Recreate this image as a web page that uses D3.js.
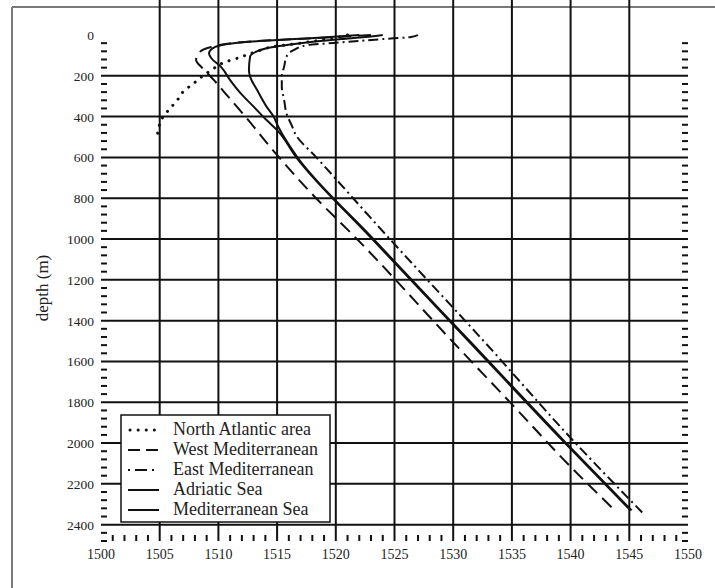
<!DOCTYPE html>
<html>
<head>
<meta charset="utf-8">
<script src="https://cdn.jsdelivr.net/npm/d3@7/dist/d3.min.js"></script>
<style>
  body { margin: 0; background: #fff; }
  svg text { font-family: "Liberation Serif", "DejaVu Serif", serif; fill: #222; }
</style>
</head>
<body>
<script>
// sound speed profiles: depth (m) and speed (m/s)
var northAtlanticDepth = [0, 10, 20, 40, 57, 80, 98, 114, 132, 172, 204, 237, 278, 319, 359, 400, 457, 500];
var northAtlanticSpeed = [1521, 1520.2, 1519.2, 1517, 1514.7, 1513.3, 1512.4, 1511.6, 1510.6, 1509.4, 1508.6, 1507.9, 1507.0, 1506.5, 1505.9, 1505.3, 1504.9, 1504.8];

var westMedDepth = [0, 10, 20, 35, 60, 90, 122, 160, 190, 220, 300, 400, 548, 793, 1000, 1500, 1822, 2116, 2337];
var westMedSpeed = [1523, 1520, 1516.5, 1512, 1509.3, 1508.3, 1508.1, 1508.6, 1509.1, 1509.6, 1510.8, 1512.3, 1514.4, 1518.2, 1521.8, 1529.9, 1535.2, 1540.0, 1543.9];

var eastMedDepth = [0, 10, 20, 39, 49, 74, 106, 155, 204, 253, 319, 384, 450, 490, 597, 1000, 1500, 1993, 2340];
var eastMedSpeed = [1527, 1526.4, 1524, 1519.8, 1517.6, 1516.4, 1515.8, 1515.6, 1515.4, 1515.4, 1515.6, 1515.8, 1516.3, 1516.6, 1518.3, 1524.6, 1532.6, 1540.3, 1546.1];

var adriaticDepth = [0, 10, 20, 40, 65, 106, 172, 204, 270, 351, 400, 450, 597, 1000, 1500, 1993, 2330];
var adriaticSpeed = [1524, 1522.5, 1520.5, 1517, 1514.1, 1512.7, 1512.6, 1512.7, 1513.3, 1514.1, 1514.7, 1515.1, 1516.7, 1523.2, 1531.4, 1539.5, 1545.2];

var mediterraneanDepth = [0, 10, 20, 30, 40, 50, 70, 90, 114, 155, 221, 286, 351, 417, 466, 597, 1000, 1500, 1993, 2330];
var mediterraneanSpeed = [1522, 1519.5, 1516.5, 1513.5, 1511.3, 1510.2, 1509.4, 1509.2, 1509.4, 1510.2, 1511.0, 1511.9, 1513.0, 1514.1, 1515.0, 1516.6, 1523.1, 1531.3, 1539.4, 1545.1];

var seriesNames = ["North Atlantic area", "West Mediterranean", "East Mediterranean", "Adriatic Sea", "Mediterranean Sea"];
var seriesDash = ["0.1 8", "13 7", "10 4 2 4", null, null];

var xTicks = [1500, 1505, 1510, 1515, 1520, 1525, 1530, 1535, 1540, 1545, 1550];
var yTicks = [0, 200, 400, 600, 800, 1000, 1200, 1400, 1600, 1800, 2000, 2200, 2400];

var svg = d3.select("body").append("svg")
    .attr("width", 715)
    .attr("height", 588);

// frame of the original figure (top and left edges only are in view)
svg.append("line").attr("x1", 12).attr("y1", 7).attr("x2", 715).attr("y2", 7)
    .attr("stroke", "#7a7a7a").attr("stroke-width", 2);
svg.append("line").attr("x1", 12).attr("y1", 7).attr("x2", 12).attr("y2", 588)
    .attr("stroke", "#7a7a7a").attr("stroke-width", 2);

var x = d3.scaleLinear().domain([1500, 1550]).range([101, 688]);
var y = d3.scaleLinear().domain([0, 2480]).range([35, 541]);

var left = x.range()[0], right = x.range()[1], top = y.range()[0], bottom = y.range()[1];

// grid
var grid = svg.append("g").attr("stroke", "#111").attr("stroke-width", 2);
xTicks.slice(1, -1).forEach(function (t) {
    grid.append("line").attr("x1", x(t)).attr("x2", x(t)).attr("y1", top).attr("y2", bottom);
});
yTicks.slice(1).forEach(function (t) {
    grid.append("line").attr("x1", left).attr("x2", right).attr("y1", y(t)).attr("y2", y(t));
});

// minor ticks on all four sides, pointing inwards
var tickLen = 6;
var minorX = d3.range(1500, 1551, 1).filter(function (v) { return v % 5 != 0; });
var minorY = d3.range(0, 2481, 40).filter(function (v) { return v % 200 != 0; });
var ticks = svg.append("g").attr("stroke", "#111").attr("stroke-width", 2);
minorX.forEach(function (v) {
    ticks.append("line").attr("x1", x(v)).attr("x2", x(v)).attr("y1", top).attr("y2", top + tickLen);
    ticks.append("line").attr("x1", x(v)).attr("x2", x(v)).attr("y1", bottom).attr("y2", bottom - tickLen);
});
minorY.forEach(function (v) {
    ticks.append("line").attr("x1", left).attr("x2", left + tickLen).attr("y1", y(v)).attr("y2", y(v));
    ticks.append("line").attr("x1", right).attr("x2", right - tickLen).attr("y1", y(v)).attr("y2", y(v));
});

// curves
var profiles = [
    [northAtlanticDepth, northAtlanticSpeed],
    [westMedDepth, westMedSpeed],
    [eastMedDepth, eastMedSpeed],
    [adriaticDepth, adriaticSpeed],
    [mediterraneanDepth, mediterraneanSpeed]
];
var line = d3.line()
    .x(function (d) { return x(d.speed); })
    .y(function (d) { return y(d.depth); })
    .curve(d3.curveMonotoneY);

for (var i = 0; i < profiles.length; i++) {
    var pts = profiles[i][0].map(function (d, j) { return { depth: d, speed: profiles[i][1][j] }; });
    var path = svg.append("path")
        .attr("d", line(pts))
        .attr("fill", "none")
        .attr("stroke", "#111")
        .attr("stroke-width", i == 0 ? 3 : 2);
    if (seriesDash[i]) path.attr("stroke-dasharray", seriesDash[i]);
    if (i == 0) path.attr("stroke-linecap", "round");
}

// plot frame
svg.append("rect")
    .attr("x", left).attr("y", top)
    .attr("width", right - left).attr("height", bottom - top)
    .attr("fill", "none").attr("stroke", "#111").attr("stroke-width", 2.5);

// tick labels
svg.append("g").selectAll("text").data(xTicks).join("text")
    .attr("x", function (d) { return x(d); })
    .attr("y", bottom + 18)
    .attr("text-anchor", "middle")
    .style("font-size", "14px")
    .text(function (d) { return d; });

svg.append("g").selectAll("text").data(yTicks).join("text")
    .attr("x", left - 7)
    .attr("y", function (d) { return y(d) + 5; })
    .attr("text-anchor", "end")
    .style("font-size", "13.5px")
    .text(function (d) { return d; });

svg.append("text")
    .attr("transform", "translate(48," + 288 + ") rotate(-90)")
    .attr("text-anchor", "middle")
    .style("font-size", "17px")
    .text("depth (m)");

// legend
var legend = svg.append("g").attr("transform", "translate(121,415)");
legend.append("rect")
    .attr("width", 209).attr("height", 107)
    .attr("fill", "#fff").attr("stroke", "#111").attr("stroke-width", 1.5);
for (var k = 0; k < seriesNames.length; k++) {
    var ly = 15 + k * 20;
    var sample = legend.append("line")
        .attr("x1", 7).attr("x2", 38).attr("y1", ly).attr("y2", ly)
        .attr("stroke", "#111").attr("stroke-width", k == 0 ? 3 : 2);
    if (k == 0) sample.attr("stroke-dasharray", "0.1 8").attr("stroke-linecap", "round").attr("x1", 9);
    if (k == 1) sample.attr("stroke-dasharray", "12 6");
    if (k == 2) sample.attr("stroke-dasharray", "2 5 12 5");
    legend.append("text")
        .attr("x", 52).attr("y", ly + 5)
        .style("font-size", "18px")
        .text(seriesNames[k]);
}
</script>
</body>
</html>
